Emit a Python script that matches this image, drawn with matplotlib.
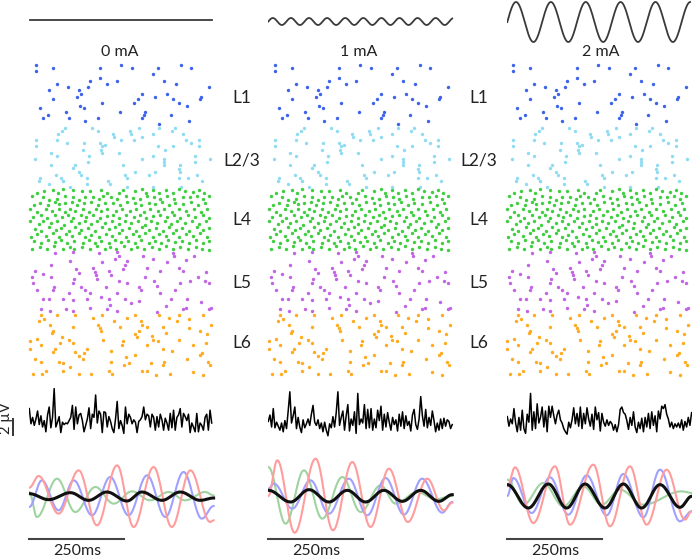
import numpy as np
import matplotlib
matplotlib.use('Agg')
import matplotlib.pyplot as plt

plt.rcParams['font.family'] = ['Lato', 'DejaVu Sans']

W, H = 692, 557

##########################################
#1. Data

stim_labels = ['0 mA', '1 mA', '2 mA']
stim_amp_ma = [0, 1, 2]
stim_freq_hz = [10, 21, 10.9]
stim_dur_ms = [482, 484, 481]

layer_names = ['L1', 'L2/3', 'L4', 'L5', 'L6']
layer_colors = ['#3d63ea', '#8fdcf2', '#3fce3f', '#c264e6', '#ffab1f']

# raster: (spike time, cell depth) - same cells in the three conditions
l1_spikes = [(47,31),(47,47),(100,40),(240,40),(304,31),(335,40),(414,40),(482,31),(512,40),
    (398,58),(240,68),(292,78),(210,78),(260,86),(432,78),(468,86),
    (112,86),(144,96),(88,105),(176,105),(182,116),(205,96),(171,125),
    (100,133),(566,96),(367,116),(406,125),(442,116),(544,125),(540,133),
    (353,133),(342,144),(458,133),(476,144),(502,154),
    (246,144),(180,154),(192,160),(60,160),(137,171),(299,171),(376,171),(372,180),(365,189),(452,180),
    (68,189),(84,181),(148,189),(233,189),(195,198),(506,198),(416,208)]

l23_spikes = [(135,218),(127,227),(215,218),(234,227),(114,237),(280,237),(330,227),(333,237),(357,218),
    (416,218),(465,218),(457,227),(398,237),(490,237),(283,247),(254,271),
    (48,256),(48,272),(110,256),(140,265),(192,265),(241,265),(245,274),(302,256),(342,256),(367,247),
    (415,272),(458,272),(498,256),(512,265),(536,256),(537,272),
    (190,284),(243,284),(94,294),(112,302),(206,302),(247,294),(296,294),(400,302),(436,284),(525,302),
    (46,312),(94,331),(204,322),(308,331),(367,312),(432,312),(433,322),(432,331),(480,331),(477,341),
    (526,322),(570,312),
    (165,331),(160,340),(176,350),(183,360),(108,360),(122,368),(128,378),(60,370),(56,378),(200,370),
    (263,378),(346,350),(387,360),(406,350),(316,360),(322,370),(480,350),(476,368),(504,370),(532,360),
    (546,378),(88,387),(200,387),(270,387),(150,395),(320,395),(398,395),(484,395),(130,377)]

l4_spikes = [(52,415),(72,407),(100,405),(114,413),(130,403),(158,405),(186,409),(210,407),(242,405),
    (262,415),(296,413),(310,405),(346,407),(366,403),(378,413),(400,405),(418,415),(438,405),(460,413),
    (476,403),(494,407),(518,411),(536,405),(552,413),
    (36,423),(70,425),(88,435),(112,431),(134,423),(160,425),(176,435),(196,427),(220,425),(238,431),
    (250,423),(272,427),(292,431),(318,423),(340,429),(360,433),(380,423),(402,427),(420,431),(442,423),
    (462,433),(488,425),(510,427),(530,423),(548,431),(566,423),
    (42,449),(60,443),(84,449),(104,441),(118,447),(136,445),(156,441),(172,451),(192,445),(212,441),
    (234,449),(256,443),(278,445),(300,449),(322,441),(344,445),(364,451),(386,443),(406,447),(426,441),
    (446,451),(466,443),(490,447),(514,441),(534,449),(556,443),
    (30,463),(50,471),(78,461),(96,469),(118,463),(134,471),(150,461),(166,467),(190,463),(206,471),
    (228,461),(244,469),(262,463),(288,467),(306,461),(330,469),(348,463),(372,471),(390,461),(414,467),
    (432,463),(456,471),(476,461),(498,467),(522,463),(544,471),(562,461),
    (38,485),(62,479),(82,489),(104,481),(126,487),(144,479),(160,489),(182,481),(198,487),(218,479),
    (240,489),(262,483),(280,479),(298,489),(318,481),(342,487),(360,479),(378,489),(398,483),(420,479),
    (440,487),(462,481),(480,489),(504,479),(526,487),(548,481),(566,489),
    (30,499),(56,507),(70,497),(92,505),(112,499),(132,509),(154,499),(176,505),(194,497),(214,507),
    (232,499),(254,505),(276,497),(296,507),(314,499),(334,505),(354,497),(374,509),(392,499),(412,505),
    (434,497),(452,507),(472,499),(494,505),(516,497),(538,507),(558,499),
    (44,521),(64,527),(88,517),(108,525),(124,519),(146,527),(166,517),(184,525),(204,519),(224,527),
    (246,517),(266,523),(286,517),(306,525),(328,519),(348,527),(366,517),(386,525),(408,519),(428,527),
    (448,517),(468,525),(486,519),(508,527),(530,517),(550,525),(568,519),
    (34,545),(52,537),(78,543),(98,535),(118,545),(138,537),(156,543),(178,535),(196,545),(214,539),
    (236,545),(258,537),(276,543),(296,535),(318,545),(338,537),(356,543),(376,535),(398,545),(418,537),
    (438,543),(458,535),(478,545),(498,537),(520,543),(540,535),(560,545),
    (42,557),(64,563),(84,555),(104,561),(122,555),(142,563),(162,557),(188,563),(206,555),(226,563),
    (244,557),(266,563),(286,555),(304,561),(324,557),(344,563),(364,555),(386,563),(404,557),(424,563),
    (444,555),(466,561),(486,557),(506,563),(528,555),(548,563),(566,557),
    (36,583),(60,575),(80,581),(102,573),(128,583),(150,575),(162,583),(186,577),(210,581),(232,573),
    (256,583),(270,575),(288,581),(312,573),(334,583),(352,575),(372,581),(396,575),(416,583),(438,573),
    (460,581),(480,575),(504,583),(528,575),(546,581),(568,585)]

l5_spikes = [(105,593),(158,591),(150,619),(92,630),(236,593),(292,591),(286,613),(298,603),(246,620),
    (322,619),(314,630),(308,641),(370,603),(398,613),(440,621),(460,593),(462,603),(498,615),(522,603),
    (46,647),(70,657),(168,641),(176,653),(218,639),(226,651),(228,661),(230,671),(268,649),(274,659),
    (380,639),(420,649),(476,639),(488,649),(558,651),
    (35,667),(93,667),(162,673),(160,685),(103,695),(100,705),(182,695),(196,705),(258,695),(296,677),
    (320,685),(376,667),(402,677),(410,693),(510,677),(534,667),(554,677),(568,685),
    (38,685),(50,705),(146,715),(210,715),(292,715),(356,695),(364,705),(420,715),(464,705),(480,685),
    (70,731),(88,731),(130,731),(160,735),(200,731),(244,725),(266,733),(314,731),(332,745),(356,739),
    (452,733),(500,731),(542,741),(270,751),
    (63,763),(90,768),(138,763),(160,768),(210,759),(260,763),(292,768),(412,770),(438,753),(488,763),
    (498,759),(566,763),(572,759)]

l6_spikes = [(62,779),(72,791),(56,799),(112,779),(164,779),(218,789),(246,779),(282,799),(320,789),
    (344,779),(362,799),(366,809),(416,779),(446,789),(470,799),(478,779),(506,791),(548,779),(572,809),
    (90,809),(98,827),(96,835),(160,817),(234,809),(240,819),(244,829),(300,815),(344,837),(358,827),
    (350,845),(380,817),(428,815),(438,835),(506,819),(540,827),(560,837),
    (30,859),(52,853),(62,871),(126,845),(120,865),(146,855),(158,863),(200,881),(250,855),(308,859),
    (306,871),(396,843),(400,855),(382,871),(414,859),(476,855),(518,871),(558,865),
    (30,883),(104,881),(98,891),(166,891),(178,903),(192,895),(274,889),(318,905),(346,899),(428,883),
    (456,889),(546,893),(540,901),
    (44,911),(62,921),(116,920),(130,923),(150,935),(190,911),(272,921),(312,931),(328,923),(392,923),
    (432,921),(428,931),(500,911),(564,921),(570,931),
    (38,957),(66,957),(78,949),(130,949),(176,957),(212,957),(268,949),(276,957),(366,947),(380,949),
    (408,959),(450,957),(520,951),(550,959)]

layer_spikes = [l1_spikes, l23_spikes, l4_spikes, l5_spikes, l6_spikes]

# LFP traces (uV), evenly sampled
lfp_0ma = [3.3,1.4,2.2,1.2,2.0,3.0,1.3,2.4,1.0,1.8,0.4,2.5,3.5,0.9,2.2,5.8,1.0,1.6,2.3,0.3,
    1.6,1.3,1.5,1.4,1.8,2.2,3.7,0.7,3.5,1.4,2.5,2.7,1.8,0.4,1.2,2.0,3.4,0.8,2.6,2.2,
    5.0,1.5,3.0,2.6,0.3,2.9,2.8,1.0,2.3,1.7,0.8,0.3,2.0,4.2,0.8,1.8,1.2,0.2,3.5,1.4,
    2.6,2.2,1.4,1.9,1.6,0.3,1.7,1.9,2.3,3.5,1.9,2.6,2.4,1.0,2.6,2.2,0.6,2.3,1.0,2.6,
    1.9,0.6,2.1,1.5,0.6,2.7,0.9,3.1,0.6,2.2,2.5,3.3,1.0,2.7,2.3,1.8,2.6,0.3,1.5,1.0,
    0.4,2.7,0.4,1.5,1.2,0.6,2.2,2.6,0.6,3.1,1.5]
lfp_1ma = [1.7,2.5,1.0,3.3,0.9,1.6,1.1,0.6,1.5,0.4,1.8,0.8,3.0,5.4,1.5,2.4,3.5,0.8,2.2,1.0,
    0.3,1.9,0.9,1.4,2.0,1.2,2.6,3.7,1.6,1.2,1.9,0.8,1.5,0.4,1.6,0.6,-0.1,1.4,0.9,2.3,
    1.0,2.8,5.4,1.2,2.2,3.0,0.6,2.4,3.8,0.5,2.0,1.2,2.9,0.2,5.2,1.3,2.0,1.5,3.8,0.8,
    3.2,0.9,3.3,0.6,2.0,0.9,3.1,1.8,3.6,0.6,2.6,1.0,2.8,1.6,0.6,2.2,1.3,1.9,0.5,2.6,
    1.1,2.9,0.8,2.4,1.2,1.7,0.5,2.5,3.2,1.3,0.7,2.0,4.8,2.4,1.1,3.2,0.9,2.2,1.2,3.0,
    1.8,0.4,1.5,0.6,2.0,0.8,2.1,1.1,1.9,1.7,0.8,1.3]
lfp_2ma = [2.3,1.1,2.0,1.4,3.3,1.5,0.4,2.2,0.6,3.1,0.8,0.2,2.6,1.6,5.2,0.6,2.9,0.8,3.9,1.5,
    2.2,3.5,1.0,3.0,0.4,3.6,2.2,3.6,2.4,1.4,2.5,3.1,1.9,1.5,0.8,0.4,0.1,1.6,0.9,1.9,
    3.4,1.4,2.7,1.1,3.5,0.8,2.7,1.4,3.4,2.0,1.1,2.6,0.7,3.5,1.9,2.8,0.5,2.7,1.6,1.1,
    1.9,1.2,1.7,1.4,0.6,1.3,0.4,1.3,3.2,3.5,2.8,2.6,1.8,0.7,2.2,1.2,2.9,1.0,0.3,1.6,
    0.8,2.1,0.4,2.2,1.0,2.7,0.8,2.9,1.2,2.4,0.4,3.0,2.0,3.6,3.3,3.8,2.6,2.0,1.0,1.6,
    0.8,1.4,1.0,1.5,0.9,1.9,0.6,1.7,1.0,2.2,1.2,2.8]
lfp_traces = [lfp_0ma, lfp_1ma, lfp_2ma]
lfp_dur_ms = [480, 484, 485]

# band-filtered oscillations: turning points (time ms, amplitude a.u.)
osc_0ma = {
    'red':   ([0, 24.6, 77, 130, 178, 231, 274.5, 327, 375, 424, 476, 485],
              [2.5, 6.0, -5.3, 7.7, -8.8, 9.2, -9.3, 8.7, -9.3, 7.7, -7.8, -7.3]),
    'blue':  ([0, 33, 77, 117, 165, 213, 261, 310, 358, 406, 454, 485],
              [-3.3, 4.7, -4.3, 4.7, -5.8, 5.7, -5.8, 6.2, -6.3, 7.2, -6.8, -3.0]),
    'green': ([0, 20, 73, 121, 174, 222, 270, 318, 367, 410, 463, 485],
              [1.2, -6.3, 5.2, -4.8, 2.7, -2.3, 1.4, -1.3, 1.2, -1.3, 1.2, 0.2]),
    'black': ([0, 51, 108, 156, 204, 257, 296, 349, 397, 450, 485],
              [0.7, -1.1, 1.0, -1.3, 1.2, -1.5, 1.2, -1.3, 1.2, -1.3, -0.6]),
}
osc_1ma = {
    'red':   ([0, 23.7, 69.3, 124.5, 170.1, 221, 269, 317.5, 367.4, 418.3, 462, 484],
              [0.0, 10.7, -11.0, 11.2, -10.3, 10.2, -9.3, 8.2, -7.8, 5.2, -4.3, -2.0]),
    'blue':  ([0, 14.9, 63.1, 111, 159.6, 212.2, 260.5, 308.7, 357, 405, 457.8, 484],
              [2.2, 3.7, -3.8, 4.7, -5.3, 5.2, -5.8, 5.4, -5.6, 5.2, -5.0, -1.8]),
    'green': ([0, 45.6, 93.8, 142, 194.7, 242.9, 295.5, 335, 392, 440, 484],
              [8.7, -8.3, 7.7, -6.8, 5.7, -4.8, 3.2, -2.3, 1.2, -1.0, 0.0]),
    'black': ([0, 58.7, 107, 159.6, 207.8, 256, 304, 352.5, 400.8, 449, 484],
              [1.7, -1.8, 1.9, -1.8, 1.7, -1.8, 1.7, -1.6, 1.7, -1.6, 0.4]),
}
osc_2ma = {
    'red':   ([0, 20.3, 68.5, 125.5, 165, 226.4, 270.2, 322.8, 366.7, 419.3, 467.5, 485],
              [2.9, 8.6, -8.1, 8.9, -8.6, 9.4, -9.1, 8.9, -8.6, 7.9, -7.1, -4.6]),
    'blue':  ([0, 15.9, 64.1, 112.4, 160.6, 208.8, 261.4, 305.3, 357.9, 401.8, 454.4, 485],
              [0.0, 5.4, -5.1, 5.6, -5.6, 6.2, -5.8, 6.6, -6.4, 7.9, -7.6, -4.6]),
    'green': ([0, 42.2, 94.8, 147.4, 200, 248.3, 296.5, 357.9, 458.8, 485],
              [4.9, -2.6, 3.9, -3.1, 2.9, -2.6, 1.9, -2.6, 1.4, 0.9]),
    'black': ([0, 55.3, 108, 156.2, 204.4, 257, 305.3, 353.5, 401.8, 454.4, 485],
              [3.4, -3.6, 3.6, -3.6, 3.6, -3.6, 3.6, -3.6, 3.4, -3.4, -0.1]),
}
osc_sets = [osc_0ma, osc_1ma, osc_2ma]
osc_colors = {'red': '#ff9c9c', 'blue': '#a0a0ff', 'green': '#9fd39f', 'black': '#111111'}

scalebar_ms = 250
scalebar_uv = 2

##########################################
#2. Layout helpers (pixel positions of the original figure)
fig = plt.figure(figsize=(W / 100, H / 100), dpi=100)


def px_axes(x0, y0, w, h):
    ax = fig.add_axes([x0 / W, 1 - (y0 + h) / H, w / W, h / H])
    ax.axis('off')
    return ax


def smooth_osc(ts, vs, n=25):
    # half-cosine segments between the turning points
    xs, ys = [], []
    for i in range(len(ts) - 1):
        s = np.linspace(0, 1, n, endpoint=False)
        xs.append(ts[i] + (ts[i + 1] - ts[i]) * s)
        ys.append(vs[i] + (vs[i + 1] - vs[i]) * (1 - np.cos(np.pi * s)) / 2)
    xs.append([ts[-1]])
    ys.append([vs[-1]])
    return np.concatenate(xs), np.concatenate(ys)


col_x0 = [29.3, 268.3, 507.3]
raster_off = [0, 239, 477]
stim_center = [20, 21.5, 22]
stim_halfrange = [1.0, 6.3, 2.2]
label_x = [242, 479]
label_y = [98, 160, 220, 283, 343]

##########################################
#3. Draw the three conditions
for c in range(3):
    x0 = col_x0[c]

    # stimulation waveform
    ax = px_axes(x0, stim_center[c] - 22, 190, 44)
    t = np.linspace(0, stim_dur_ms[c], 600)
    if c == 0:
        t = np.linspace(3, stim_dur_ms[c], 600)
    ax.plot(t, stim_amp_ma[c] * np.sin(2 * np.pi * stim_freq_hz[c] * t / 1000), color='#3a3a3a', lw=1.3)
    ax.set_xlim(0, 500)
    ax.set_ylim(-stim_halfrange[c], stim_halfrange[c])
    fig.text((x0 + 90 + (c == 2) * 3) / W, 1 - 52 / H, stim_labels[c], ha='center', va='center',
             fontsize=11.5, color='#222222')

    # raster
    ax = px_axes(20 + raster_off[c], 55, 200, 330)
    for spikes, col in zip(layer_spikes, layer_colors):
        arr = np.array(spikes)
        ax.scatter(arr[:, 0], arr[:, 1], s=6, color=col, linewidths=0)
    ax.set_xlim(0, 600)
    ax.set_ylim(990, 0)

    # LFP
    ax = px_axes(x0, 380, 190, 65)
    lfp = np.array(lfp_traces[c])
    ax.plot(np.linspace(0, lfp_dur_ms[c], len(lfp)), lfp, color='black', lw=1.1)
    ax.set_xlim(0, 500)
    ax.set_ylim(-1.25, 6.875)
    if c == 0:
        ax.plot([-43, -43], [0, scalebar_uv], color='#333333', lw=1.4, clip_on=False)

    # filtered oscillations
    ax = px_axes(x0, 456, 190, 80)
    osc = osc_sets[c]
    for key in ['green', 'blue', 'red']:
        tt, vv = smooth_osc(*osc[key])
        ax.plot(tt, vv, color=osc_colors[key], lw=1.5)
    tt, vv = smooth_osc(*osc['black'])
    ax.plot(tt, vv, color=osc_colors['black'], lw=2.2)
    ax.set_xlim(0, 500)
    ax.set_ylim(-12, 12)
    ax.plot([0, scalebar_ms], [-12.9, -12.9], color='#444444', lw=1.5, clip_on=False)
    ax.text(scalebar_ms / 2, -16.6, '%dms' % scalebar_ms, ha='center', va='center', fontsize=11.5,
            color='#222222', clip_on=False)

# layer labels
for lx in label_x:
    for name, ly in zip(layer_names, label_y):
        fig.text(lx / W, 1 - ly / H, name, ha='center', va='center', fontsize=12.5, color='#222222')

fig.text(6 / W, 1 - 418 / H, '2 µV', rotation=90, ha='center', va='center', fontsize=10.5,
         color='#222222')

fig.savefig('out.png', dpi=100)
